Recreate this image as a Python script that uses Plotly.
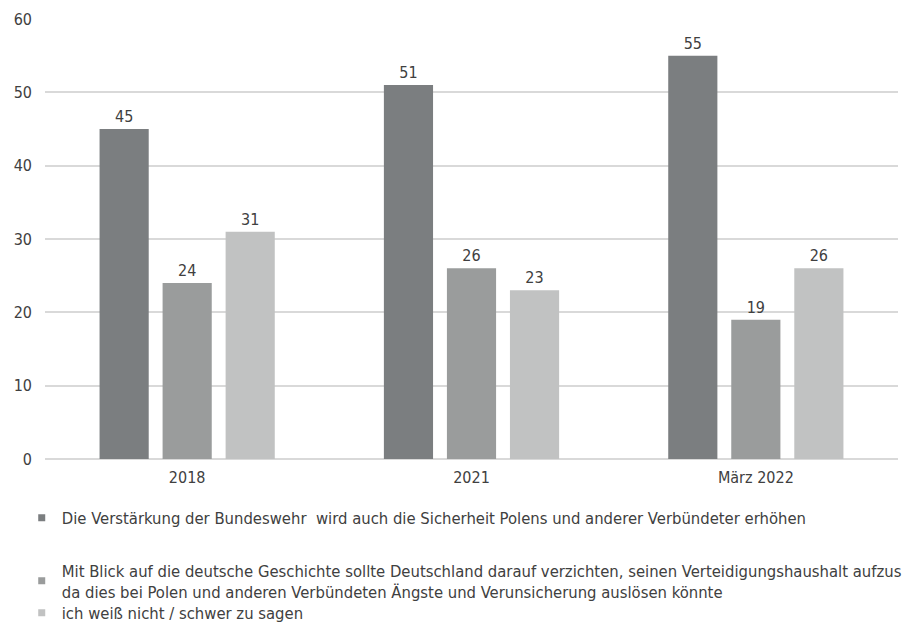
import plotly.graph_objects as go

categories = ["2018", "2021", "März 2022"]
series_names = [
    "Die Verstärkung der Bundeswehr  wird auch die Sicherheit Polens und anderer Verbündeter erhöhen",
    "Mit Blick auf die deutsche Geschichte sollte Deutschland darauf verzichten, seinen Verteidigungshaushalt aufzus<br>da dies bei Polen und anderen Verbündeten Ängste und Verunsicherung auslösen könnte",
    "ich weiß nicht / schwer zu sagen",
]
values_a = [45, 51, 55]
values_b = [24, 26, 19]
values_c = [31, 23, 26]
y_ticks = [0, 10, 20, 30, 40, 50, 60]

colors = ["#7b7e80", "#9a9c9c", "#c1c2c2"]
FONT = "DejaVu Sans Condensed, Noto Sans, sans-serif"
TXT = "#404040"

fig = go.Figure()
for vals, col in zip([values_a, values_b, values_c], colors):
    fig.add_trace(go.Bar(
        x=categories, y=vals, marker=dict(color=col, line=dict(width=0)),
        text=[str(v) for v in vals], textposition="outside",
        textfont=dict(size=16, color=TXT, family=FONT),
        cliponaxis=False, showlegend=False,
    ))

legend_names = ["legend", "legend2", "legend3"]
for name, col, lg in zip(series_names, colors, legend_names):
    fig.add_trace(go.Scatter(
        x=[None], y=[None], mode="markers", name=name,
        marker=dict(symbol="square", size=7, color=col),
        legend=lg, showlegend=True,
    ))

leg_common = dict(orientation="v", xanchor="left", yanchor="middle",
                  xref="container", yref="container",
                  font=dict(size=16.5, color=TXT, family=FONT),
                  bgcolor="rgba(0,0,0,0)", itemwidth=30)

fig.update_layout(
    width=915, height=616,
    margin=dict(l=37, r=25, t=11, b=165, autoexpand=False),
    paper_bgcolor="white", plot_bgcolor="white",
    barmode="group", bargap=0.335, bargroupgap=0.22,
    font=dict(family=FONT, color=TXT),
    xaxis=dict(showgrid=False, showline=False, ticks="", ticklabelstandoff=7,
               tickfont=dict(size=16, color=TXT, family=FONT)),
    yaxis=dict(range=[0, 60], tickvals=y_ticks, showgrid=True,
               gridcolor="#d9d9d9", gridwidth=2, zeroline=True,
               zerolinecolor="#d9d9d9", zerolinewidth=2, showline=False,
               tickfont=dict(size=16, color=TXT, family=FONT), ticklabelstandoff=12),
    legend=dict(x=0.015, y=0.172, **leg_common),
    legend2=dict(x=0.015, y=0.070, **leg_common),
    legend3=dict(x=0.015, y=0.018, **leg_common),
)

fig.write_html("out.html")
